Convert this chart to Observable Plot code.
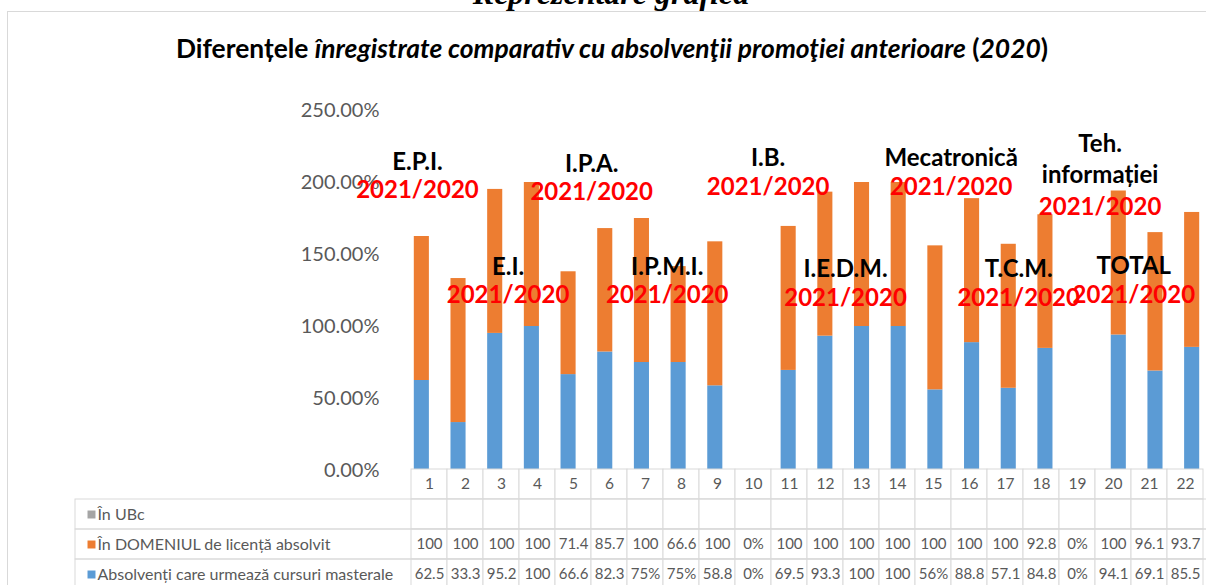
<!DOCTYPE html>
<html>
<head>
<meta charset="utf-8">
<script src="https://cdn.jsdelivr.net/npm/d3@7"></script>
<script src="https://cdn.jsdelivr.net/npm/@observablehq/plot@0.6"></script>
<style>
html, body { margin: 0; padding: 0; background: #fff; }
#wrap { position: relative; width: 1206px; height: 585px; overflow: hidden; background: #fff; }
#frame { position: absolute; left: 7px; top: 11px; width: 1400px; height: 800px; border: 1px solid #d9d9d9; box-sizing: border-box; }
#top { position: absolute; left: 0; width: 1222px; top: -23px; text-align: center; font: italic bold 32px/32px "Liberation Serif", serif; color: #000; white-space: nowrap; }
#title { position: absolute; left: 0; width: 1224px; top: 33px; text-align: center; font: bold 26.4px/30px Lato, "Open Sans", sans-serif; color: #000; white-space: nowrap; }
#title i { font-style: italic; }
.layer { position: absolute; left: 0; }
</style>
</head>
<body>
<div id="wrap">
  <div id="frame"></div>
  <div id="top">Reprezentare grafică</div>
  <div id="title">Diferențele <i>înregistrate comparativ cu absolvenţii promoţiei anterioare</i> (<i>2020</i>)</div>
  <div id="main" class="layer" style="top:0"></div>
  <div id="table" class="layer" style="top:468px"></div>
</div>
<script>
// ---- data ----
const categories = [1, 2, 3, 4, 5, 6, 7, 8, 9, 10, 11, 12, 13, 14, 15, 16, 17, 18, 19, 20, 21, 22];
const domeniu   = [100, 100, 100, 100, 71.4, 85.7, 100, 66.6, 100, 0, 100, 100, 100, 100, 100, 100, 100, 92.8, 0, 100, 96.1, 93.7];
const masterale = [62.5, 33.3, 95.2, 100, 66.6, 82.3, 75, 75, 58.8, 0, 69.5, 93.3, 100, 100, 56, 88.8, 57.1, 84.8, 0, 94.1, 69.1, 85.5];
const ubcLabels       = ["", "", "", "", "", "", "", "", "", "", "", "", "", "", "", "", "", "", "", "", "", ""];
const domeniuLabels   = ["100", "100", "100", "100", "71.4", "85.7", "100", "66.6", "100", "0%", "100", "100", "100", "100", "100", "100", "100", "92.8", "0%", "100", "96.1", "93.7"];
const masteraleLabels = ["62.5", "33.3", "95.2", "100", "66.6", "82.3", "75%", "75%", "58.8", "0%", "69.5", "93.3", "100", "100", "56%", "88.8", "57.1", "84.8", "0%", "94.1", "69.1", "85.5"];
const seriesKeys   = ["ubc", "dom", "mast"];
const seriesNames  = ["În UBc", "În DOMENIUL de licență absolvit", "Absolvenți care urmează cursuri masterale"];
const seriesColors = ["#A5A5A5", "#ED7D31", "#5B9BD5"];
const yTicks = [0, 50, 100, 150, 200, 250];
// annotations (x in category units, y in %)
const annotLabels = ["E.P.I.", "E.I.", "I.P.A.", "I.P.M.I.", "I.B.", "I.E.D.M.", "Mecatronică", "T.C.M.", "Teh.\ninformației", "TOTAL"];
const annotX      = [0.88, 3.35, 5.63, 7.69, 10.44, 12.55, 15.43, 17.27, 19.49, 20.41];
const annotY      = [215.3, 142.4, 214.1, 142.4, 218.7, 141.2, 218.7, 141.2, 217.1, 143.7];
const annotSubY   = [194.4, 121.5, 193.3, 121.5, 196.7, 119.4, 196.7, 119.4, 182.8, 121.5];
const annotSub = "2021/2020";

// ---- derived tables ----
const bars = categories.map((c, i) => ({cat: c, mast: masterale[i], dom: domeniu[i]}));
const annots = annotLabels.map((t, i) => ({text: t, x: annotX[i], y: annotY[i], sy: annotSubY[i]}));
const rowLabelSets = {ubc: ubcLabels, dom: domeniuLabels, mast: masteraleLabels};
const cells = [];
seriesKeys.forEach(k => categories.forEach((c, i) => cells.push({cat: c, row: k, label: rowLabelSets[k][i]})));
const seriesRows = seriesKeys.map((k, i) => ({key: k, name: seriesNames[i], color: seriesColors[i]}));

const FONT = "Lato, 'Open Sans', sans-serif";
const GRID = "#d9d9d9";
const GREY = "#595959";

const main = Plot.plot({
  width: 1210, height: 470,
  marginLeft: 403, marginRight: 0, marginTop: 110, marginBottom: 0,
  style: {background: "transparent", maxWidth: "none", overflow: "visible", fontFamily: FONT},
  x: {domain: [0.5, 22.5], axis: null},
  y: {domain: [0, 250], axis: null},
  marks: [
    Plot.axisY(yTicks, {tickSize: 0, tickPadding: 24, tickFormat: d => d.toFixed(2) + "%", fontSize: 20, fill: GREY, label: null}),
    Plot.rect(bars, {x1: d => d.cat - 0.5, x2: d => d.cat + 0.5, y1: 0, y2: "mast", fill: seriesColors[2], insetLeft: 10.8, insetRight: 10.8}),
    Plot.rect(bars, {x1: d => d.cat - 0.5, x2: d => d.cat + 0.5, y1: "mast", y2: d => d.mast + d.dom, fill: seriesColors[1], insetLeft: 10.8, insetRight: 10.8}),
    Plot.text(annots, {x: "x", y: "y", text: "text", fontSize: 24, fontWeight: "bold", fill: "#000", lineHeight: 1.3}),
    Plot.text(annots, {x: "x", y: "sy", text: () => annotSub, fontSize: 24, fontWeight: "bold", fill: "#FF0000"})
  ]
});
document.getElementById("main").appendChild(main);

const table = Plot.plot({
  width: 1210, height: 122,
  marginLeft: 403, marginRight: 0, marginTop: 1, marginBottom: 1,
  style: {background: "transparent", maxWidth: "none", overflow: "visible", fontFamily: FONT},
  x: {type: "band", domain: categories, padding: 0, axis: null},
  y: {type: "band", domain: ["hdr", ...seriesKeys], padding: 0, axis: null},
  marks: [
    Plot.cell(categories, {x: d => d, y: () => "hdr", fill: "white", stroke: GRID}),
    Plot.cell(cells, {x: "cat", y: "row", fill: "white", stroke: GRID}),
    Plot.cell(seriesRows, {y: "key", insetLeft: -328, fill: "none", stroke: GRID}),
    Plot.text(categories, {x: d => d, y: () => "hdr", text: d => String(d), fontSize: 15.5, fill: GREY}),
    Plot.text(cells, {x: "cat", y: "row", text: "label", fontSize: 15, fill: GREY}),
    Plot.dot(seriesRows, {y: "key", frameAnchor: "left", dx: -312, symbol: "square", r: 4.5, fill: "color", stroke: null}),
    Plot.text(seriesRows, {y: "key", frameAnchor: "left", dx: -306, textAnchor: "start", text: "name", fontSize: 16, fill: GREY})
  ]
});
document.getElementById("table").appendChild(table);
</script>
</body>
</html>
